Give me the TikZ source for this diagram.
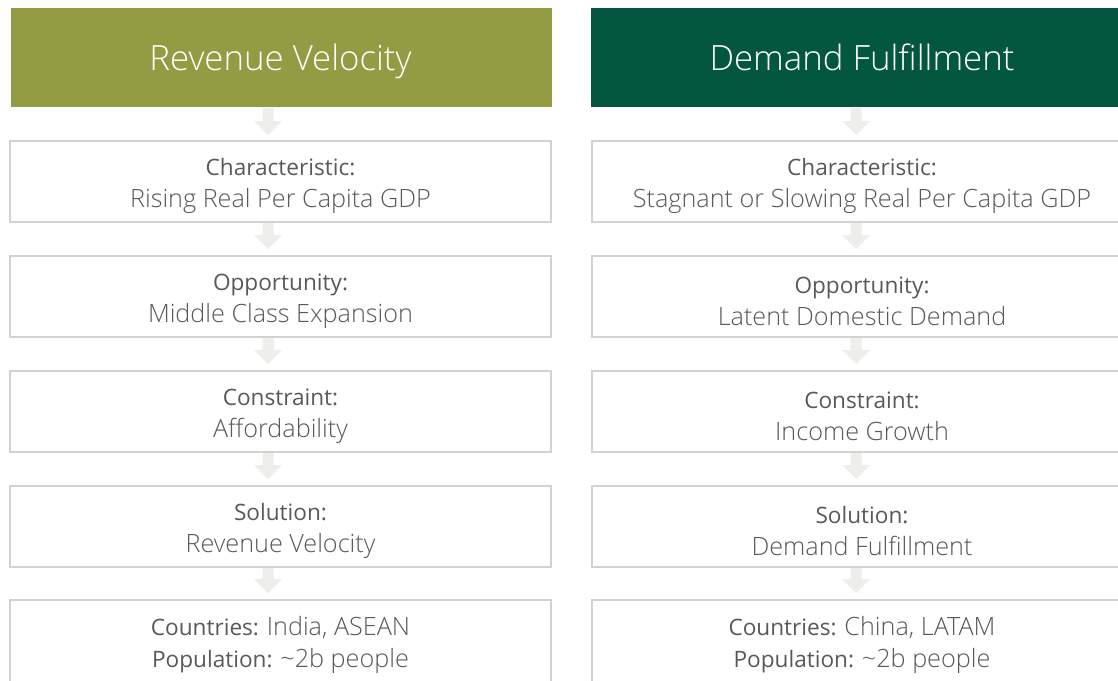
\documentclass[tikz,border=0pt]{standalone}
\usepackage{fontspec}
\setmainfont{Open Sans}
\newfontfamily\lightfont{Open Sans Light}
\definecolor{olivehead}{HTML}{939B43}
\definecolor{greenhead}{HTML}{03573F}
\definecolor{boxline}{HTML}{D2D2D2}
\definecolor{arrowfill}{HTML}{EEEEEA}
\definecolor{bodytext}{HTML}{595959}
\tikzset{
  header/.style={draw=none, minimum width=541pt, minimum height=99pt, inner sep=0pt},
  headtext/.style={anchor=base, inner sep=0pt, text=white,
    font=\lightfont\fontsize{34.8}{40}\selectfont},
  stagebox/.style={draw=boxline, line width=2pt, fill=white, minimum width=541pt,
    inner sep=0pt},
  stagetext/.style={inner sep=0pt, align=center, text=bodytext,
    font=\fontsize{22.6}{32}\selectfont},
  flowarrow/.style={fill=arrowfill, draw=none},
}
% downward block arrow: centre x, top y, bottom y
\newcommand\blockarrow[3]{%
  \fill[flowarrow] (#1-5.5,#2) -- (#1+5.5,#2) -- (#1+5.5,#3-14) -- (#1+14,#3-14)
    -- (#1,#3) -- (#1-14,#3-14) -- (#1-5.5,#3-14) -- cycle;}
\newcommand\val[1]{{\lightfont\fontsize{25.2}{32}\selectfont #1}}
\begin{document}
\begin{tikzpicture}[x=1pt, y=-1pt]
  \useasboundingbox (0,0) rectangle (1118,680);
  \clip (0,0) rectangle (1118,680);
  \fill[white] (0,0) rectangle (1118,680);

  % headers
  \node[header, fill=olivehead] (hl) at (281.5,57.5) {};
  \node[header, fill=greenhead, minimum width=545pt] (hr) at (863.5,57.5) {};
  \node[headtext] (hlt) at (280.5,70.5) {Revenue Velocity};
  \node[headtext] (hrt) at (862,70.5) {Demand Fulfillment};

  % left column
  \node[stagebox, minimum height=81pt] (l1) at (280.5,181.5) {};
  \node[stagebox, minimum height=81pt] (l2) at (280.5,296.5) {};
  \node[stagebox, minimum height=81pt] (l3) at (280.5,411.5) {};
  \node[stagebox, minimum height=81pt] (l4) at (280.5,526.5) {};
  \node[stagebox, minimum height=88pt] (l5) at (280.5,644) {};
  \node[stagetext] (l1t) at ([yshift=-4.5pt]l1.center) {Characteristic:\\\val{Rising Real Per Capita GDP}};
  \node[stagetext] (l2t) at ([yshift=-4.5pt]l2.center) {Opportunity:\\\val{Middle Class Expansion}};
  \node[stagetext] (l3t) at ([yshift=-4.5pt]l3.center) {Constraint:\\\val{Affordability}};
  \node[stagetext] (l4t) at ([yshift=-4.5pt]l4.center) {Solution:\\\val{Revenue Velocity}};
  \node[stagetext] (l5t) at ([yshift=-0.5pt]l5.center) {Countries: \val{India, ASEAN}\\Population: \val{\textasciitilde 2b people}};

  % right column
  \node[stagebox, minimum height=81pt] (r1) at (862,181.5) {};
  \node[stagebox, minimum height=81pt] (r2) at (862,296.5) {};
  \node[stagebox, minimum height=81pt] (r3) at (862,411.5) {};
  \node[stagebox, minimum height=81pt] (r4) at (862,526.5) {};
  \node[stagebox, minimum height=88pt] (r5) at (862,644) {};
  \node[stagetext] (r1t) at ([yshift=-4.5pt]r1.center) {Characteristic:\\\val{Stagnant or Slowing Real Per Capita GDP}};
  \node[stagetext] (r2t) at ([yshift=-4.5pt]r2.center) {Opportunity:\\\val{Latent Domestic Demand}};
  \node[stagetext] (r3t) at ([yshift=-4.5pt]r3.center) {Constraint:\\\val{Income Growth}};
  \node[stagetext] (r4t) at ([yshift=-4.5pt]r4.center) {Solution:\\\val{Demand Fulfillment}};
  \node[stagetext] (r5t) at ([yshift=-0.5pt]r5.center) {Countries: \val{China, LATAM}\\Population: \val{\textasciitilde 2b people}};

  % connecting arrows
  \blockarrow{268}{108}{135}
  \blockarrow{268}{223}{249}
  \blockarrow{268}{338}{364}
  \blockarrow{268}{453}{479}
  \blockarrow{268}{568}{593}
  \blockarrow{856}{108}{135}
  \blockarrow{856}{223}{249}
  \blockarrow{856}{338}{364}
  \blockarrow{856}{453}{479}
  \blockarrow{856}{568}{593}
\end{tikzpicture}
\end{document}
